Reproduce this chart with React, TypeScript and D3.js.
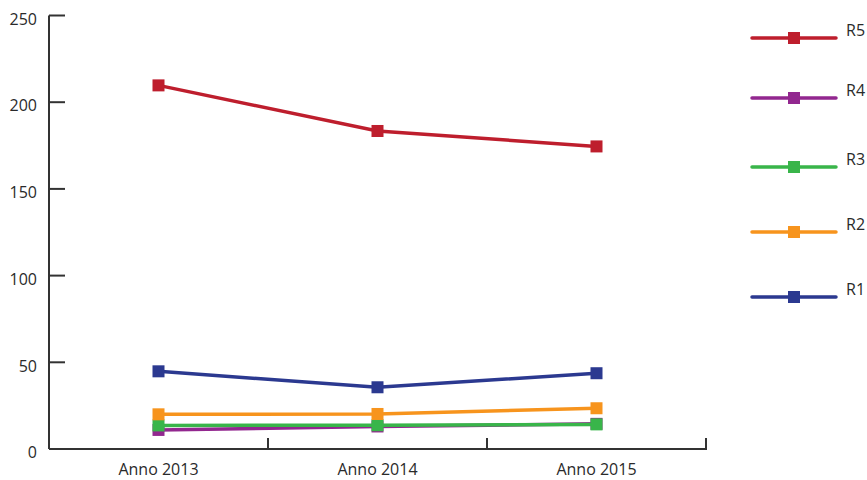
import React from 'react';
import * as d3 from 'd3';

const years = ['Anno 2013', 'Anno 2014', 'Anno 2015'];
const seriesNames = ['R5', 'R4', 'R3', 'R2', 'R1'];
const r5 = [209.7, 183.4, 174.5];
const r4 = [11, 13, 14.5];
const r3 = [13.6, 13.7, 14.2];
const r2 = [20, 20.2, 23.5];
const r1 = [44.8, 35.6, 43.7];
const yTicks = [0, 50, 100, 150, 200, 250];

const colors = ['#be1e2d', '#92278f', '#39b54a', '#f7941d', '#2b3990'];
const seriesValues = [r5, r4, r3, r2, r1];

const W = 867;
const H = 480;
const left = 49;
const right = 706;
const top = 15.5;
const bottom = 449;
const font = '"Open Sans", sans-serif';
const axisColor = '#333';
const textColor = '#2a2a2a';
const legendRows = [38, 98, 167, 232, 297];

const App: React.FC = () => {
  const x = d3.scaleBand<string>().domain(years).range([left, right]);
  const y = d3.scaleLinear().domain([0, 250]).range([bottom, top]);
  const line = d3
    .line<number>()
    .x((_, i) => x(years[i])! + x.bandwidth() / 2)
    .y((d) => y(d));

  const ms = 12; // marker size

  return (
    <div style={{ position: 'fixed', left: 0, top: 0 }}>
      <svg width={W} height={H} style={{ display: 'block', background: '#fff' }}>
        {/* y axis */}
        <line x1={left} x2={left} y1={top} y2={bottom} stroke={axisColor} strokeWidth={2} />
        {yTicks.map((t) => (
          <g key={t}>
            <line x1={left} x2={left + 16} y1={y(t)} y2={y(t)} stroke={axisColor} strokeWidth={2} />
            <text
              x={37}
              y={y(t) + 5}
              textAnchor="end"
              dominantBaseline="middle"
              fontFamily={font}
              fontSize={16}
              fill={textColor}
            >
              {t}
            </text>
          </g>
        ))}
        {/* x axis */}
        <line x1={left} x2={right + 1} y1={bottom} y2={bottom} stroke={axisColor} strokeWidth={2} />
        {years.map((yr) => (
          <g key={yr}>
            <line
              x1={x(yr)! + x.bandwidth()}
              x2={x(yr)! + x.bandwidth()}
              y1={bottom}
              y2={bottom - 11}
              stroke={axisColor}
              strokeWidth={2}
            />
            <text
              x={x(yr)! + x.bandwidth() / 2}
              y={475}
              textAnchor="middle"
              fontFamily={font}
              fontSize={16}
              fill={textColor}
            >
              {yr}
            </text>
          </g>
        ))}
        {/* series, R5 first so R1 ends up on top */}
        {seriesValues.map((vals, s) => (
          <g key={seriesNames[s]}>
            <path d={line(vals)!} fill="none" stroke={colors[s]} strokeWidth={3.5} />
            {vals.map((v, i) => (
              <rect
                key={i}
                x={x(years[i])! + x.bandwidth() / 2 - ms / 2}
                y={y(v) - ms / 2}
                width={ms}
                height={ms}
                fill={colors[s]}
              />
            ))}
          </g>
        ))}
        {/* legend */}
        {seriesNames.map((name, s) => (
          <g key={name} transform={`translate(0, ${legendRows[s]})`}>
            <line x1={752} x2={836} y1={0} y2={0} stroke={colors[s]} strokeWidth={3.5} strokeLinecap="round" />
            <rect x={794 - ms / 2} y={-ms / 2} width={ms} height={ms} fill={colors[s]} />
            <text x={846} y={-6} dominantBaseline="middle" fontFamily={font} fontSize={16} fill={textColor}>
              {name}
            </text>
          </g>
        ))}
      </svg>
    </div>
  );
};

export default App;
